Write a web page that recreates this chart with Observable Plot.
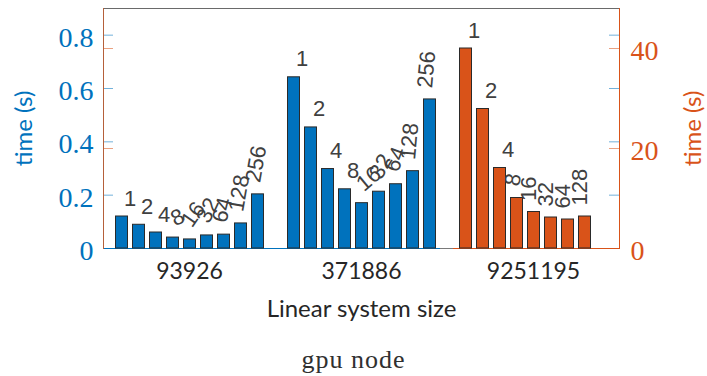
<!DOCTYPE html>
<html><head><meta charset="utf-8">
<script src="https://cdn.jsdelivr.net/npm/d3@7"></script>
<script src="https://cdn.jsdelivr.net/npm/@observablehq/plot@0.6"></script>
<style>
body{margin:0;background:#fff}
figure{margin:0;width:707px}
figure svg{display:block}
figcaption{font-family:"Liberation Serif",serif;font-size:26px;line-height:26px;letter-spacing:1px;text-align:center;color:#303030;margin-top:17px;padding:0}
</style></head><body><div id="chart"></div>
<script>
// ---- data ----
const groups = ["93926", "371886", "9251195"];
const threads = ["1", "2", "4", "8", "16", "32", "64", "128", "256"];
const time93926 = [0.120, 0.089, 0.060, 0.041, 0.034, 0.049, 0.052, 0.094, 0.203]; // left axis (s)
const time371886 = [0.642, 0.454, 0.298, 0.222, 0.170, 0.213, 0.241, 0.290, 0.559]; // left axis (s)
const time9251195 = [40.0, 27.9, 16.1, 10.1, 7.3, 6.2, 5.8, 6.4];                  // right axis (s)
const leftTicks = [0, 0.2, 0.4, 0.6, 0.8];
const rightTicks = [0, 20, 40];
// label rotation (style)
const rot93926 = [0, 0, 0, -25, -55, -65, -75, -80, -80];
const rot371886 = [0, 0, 0, 0, -40, -60, -70, -85, -85];
const rot9251195 = [0, 0, 0, -80, -90, -90, -90, -90];

const leftMax = 0.9, rightMax = 48;
const k = leftMax / rightMax;
const blue = "#0072BD", orange = "#D95319";

const leftRows = [
  ...time93926.map((t, i) => ({group: groups[0], threads: threads[i], time: t, rot: rot93926[i], y: t})),
  ...time371886.map((t, i) => ({group: groups[1], threads: threads[i], time: t, rot: rot371886[i], y: t}))
];
const rightRows = time9251195.map((t, i) => ({group: groups[2], threads: threads[i], time: t, rot: rot9251195[i], y: t * k}));
const allRows = [...leftRows, ...rightRows];

const tickOpts = {fill: "none", label: null, strokeOpacity: 0.55};

const chart = Plot.plot({
  width: 707,
  height: 330,
  marginLeft: 101.5,
  marginRight: 87,
  marginTop: 8,
  marginBottom: 82,
  fx: {domain: groups, padding: 0, axis: null},
  x: {domain: threads, paddingInner: 0.3, paddingOuter: 0.559, axis: null},
  y: {domain: [0, leftMax], axis: null},
  caption: "gpu node",
  style: {fontFamily: "Lato", background: "white", overflow: "visible"},
  marks: [
    // x axis line + top box line
    Plot.ruleY([0], {stroke: "#7a7a7a"}),
    Plot.ruleY([leftMax], {stroke: "#6a6a6a"}),
    // bar baselines
    Plot.ruleY([{group: groups[0], v: 0}], {fx: "group", y: "v", stroke: blue}),
    Plot.ruleY([{group: groups[1], v: 0}], {fx: "group", y: "v", stroke: blue, insetRight: 7}),
    Plot.ruleY([{group: groups[2], v: 0}], {fx: "group", y: "v", stroke: orange, insetLeft: 6}),
    // bars
    Plot.barY(leftRows, {fx: "group", x: "threads", y: "y", fill: blue, stroke: "#2a2a2a", strokeWidth: 1}),
    Plot.barY(rightRows, {fx: "group", x: "threads", y: "y", fill: orange, stroke: "#2a2a2a", strokeWidth: 1}),
    // bar labels
    Plot.text(allRows, {fx: "group", x: "threads", y: "y", text: "threads", rotate: "rot",
      dx: 2, dy: -11, textAnchor: "start", lineAnchor: "bottom",
      fontSize: 22, fontFamily: "Liberation Sans", fill: "#404040"}),
    // side frame lines
    Plot.frame({anchor: "left", facetAnchor: "left", stroke: "#b5603a"}),
    Plot.frame({anchor: "right", facetAnchor: "right", stroke: orange}),
    // inward ticks, left side
    Plot.axisY(leftTicks.filter(d => d > 0), {anchor: "right", frameAnchor: "left", facetAnchor: "left", tickSize: 9, stroke: blue, ...tickOpts}),
    Plot.axisY(rightTicks.filter(d => d > 0).map(d => d * k), {anchor: "right", frameAnchor: "left", facetAnchor: "left", tickSize: 9, stroke: orange, ...tickOpts}),
    // inward ticks, right side
    Plot.axisY(leftTicks.filter(d => d > 0), {anchor: "left", frameAnchor: "right", facetAnchor: "right", tickSize: 10, stroke: blue, ...tickOpts}),
    Plot.axisY(rightTicks.filter(d => d > 0).map(d => d * k), {anchor: "left", frameAnchor: "right", facetAnchor: "right", tickSize: 10, stroke: orange, ...tickOpts}),
    // tick labels
    Plot.axisY(leftTicks, {anchor: "left", facetAnchor: "left", tickSize: 0, tickPadding: 10, dy: 2.5, label: null,
      tickFormat: d => String(d), fill: blue, fontSize: 28, fontFamily: "Liberation Serif"}),
    Plot.axisY(rightTicks.map(d => d * k), {anchor: "right", facetAnchor: "right", tickSize: 0, tickPadding: 11, dy: 2.5, label: null,
      tickFormat: d => String(Math.round(d / k)), fill: orange, fontSize: 28, fontFamily: "Liberation Serif"}),
    // group labels
    Plot.axisFx({anchor: "bottom", tickSize: 0, tickPadding: 14, fontSize: 23, fontFamily: "Lato", fill: "#262626", label: null}),
    // axis titles
    Plot.text(["Linear system size"], {fx: () => groups[1], frameAnchor: "bottom", dy: 68, lineAnchor: "bottom",
      fontSize: 24, fontFamily: "Lato", fill: "#262626"}),
    Plot.text(["time (s)"], {frameAnchor: "left", facetAnchor: "left", dx: 30 - 101.5, rotate: -90,
      textAnchor: "middle", lineAnchor: "bottom", fontSize: 24, fontFamily: "Lato", fill: blue}),
    Plot.text(["time (s)"], {frameAnchor: "right", facetAnchor: "right", dx: 701 - 620, rotate: -90,
      textAnchor: "middle", lineAnchor: "bottom", fontSize: 24, fontFamily: "Lato", fill: orange})
  ]
});
document.getElementById("chart").appendChild(chart);
</script></body></html>
